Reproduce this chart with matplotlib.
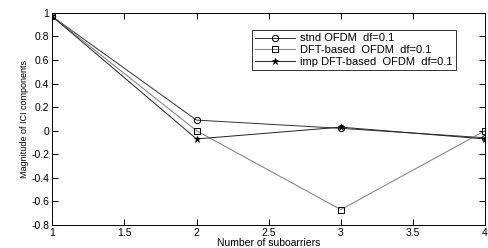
import numpy as np
import matplotlib.pyplot as plt

# values
subcarriers = [1, 2, 3, 4]
stnd_ofdm = [0.97, 0.09, 0.02, -0.06]
dft_ofdm = [0.97, 0.0, -0.67, 0.0]
imp_dft_ofdm = [0.97, -0.07, 0.03, -0.07]

plt.rcParams['font.family'] = ['Liberation Sans', 'DejaVu Sans']

fig = plt.figure(figsize=(4.88, 2.48), dpi=100)
ax = fig.add_axes([0.107, 0.093, 0.887, 0.855])

ax.plot(subcarriers, stnd_ofdm, color='#333333', lw=0.7, marker='o',
        ms=4.5, mfc='none', mec='black', mew=0.7, label='stnd OFDM  df=0.1')
ax.plot(subcarriers, dft_ofdm, color='#888888', lw=0.8, marker='s',
        ms=4.5, mfc='none', mec='black', mew=0.7, label='DFT-based  OFDM  df=0.1')
ax.plot(subcarriers, imp_dft_ofdm, color='#222222', lw=0.7, marker='*',
        ms=4.5, mfc='black', mec='black', mew=0.5, label='imp DFT-based  OFDM  df=0.1')

ax.set_xlim(1, 4)
ax.set_ylim(-0.8, 1)
ax.set_xticks(np.arange(1, 4.01, 0.5))
ax.set_xticklabels(['1', '1.5', '2', '2.5', '3', '3.5', '4'])
ax.set_yticks(np.arange(-0.8, 1.01, 0.2))
ax.set_yticklabels(['-0.8', '-0.6', '-0.4', '-0.2', '0', '0.2', '0.4', '0.6', '0.8', '1'])
ax.tick_params(direction='in', top=True, right=True, labelsize=7.5, length=4, width=0.7, pad=2)
for s in ax.spines.values():
    s.set_linewidth(0.7)

ax.set_xlabel('Number of suboarriers', fontsize=7.5, labelpad=0)
ax.set_ylabel('Magnitude of ICI components', fontsize=6.5, labelpad=2)

leg = ax.legend(loc='upper right', bbox_to_anchor=(0.945, 0.945), fontsize=8,
                frameon=True, fancybox=False, edgecolor='black',
                handlelength=3.6, borderpad=0.3, labelspacing=0.15, handletextpad=0.4)
leg.get_frame().set_linewidth(0.7)

fig.savefig('out.png', dpi=100)
